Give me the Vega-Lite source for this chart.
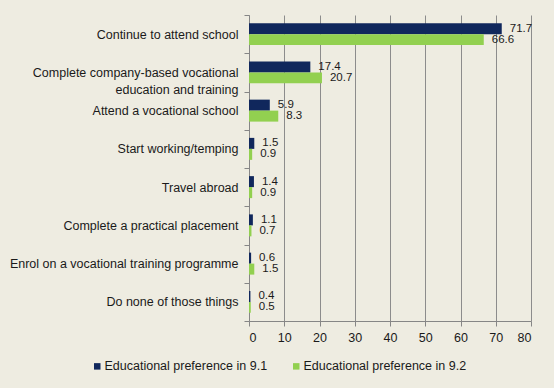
{
  "$schema": "https://vega.github.io/schema/vega-lite/v6.json",
  "width": 282,
  "height": 306,
  "autosize": {"type": "none"},
  "padding": {"left": 249, "top": 15, "right": 23, "bottom": 67},
  "background": "#EEECE1",
  "data": {
    "values": [
      {"category": "Continue to attend school", "series": "Educational preference in 9.1", "value": 71.7},
      {"category": "Continue to attend school", "series": "Educational preference in 9.2", "value": 66.6},
      {"category": "Complete company-based vocational education and training", "series": "Educational preference in 9.1", "value": 17.4},
      {"category": "Complete company-based vocational education and training", "series": "Educational preference in 9.2", "value": 20.7},
      {"category": "Attend a vocational school", "series": "Educational preference in 9.1", "value": 5.9},
      {"category": "Attend a vocational school", "series": "Educational preference in 9.2", "value": 8.3},
      {"category": "Start working/temping", "series": "Educational preference in 9.1", "value": 1.5},
      {"category": "Start working/temping", "series": "Educational preference in 9.2", "value": 0.9},
      {"category": "Travel abroad", "series": "Educational preference in 9.1", "value": 1.4},
      {"category": "Travel abroad", "series": "Educational preference in 9.2", "value": 0.9},
      {"category": "Complete a practical placement", "series": "Educational preference in 9.1", "value": 1.1},
      {"category": "Complete a practical placement", "series": "Educational preference in 9.2", "value": 0.7},
      {"category": "Enrol on a vocational training programme", "series": "Educational preference in 9.1", "value": 0.6},
      {"category": "Enrol on a vocational training programme", "series": "Educational preference in 9.2", "value": 1.5},
      {"category": "Do none of those things", "series": "Educational preference in 9.1", "value": 0.4},
      {"category": "Do none of those things", "series": "Educational preference in 9.2", "value": 0.5}
    ]
  },
  "encoding": {
    "y": {
      "field": "category",
      "type": "nominal",
      "sort": [
        "Continue to attend school",
        "Complete company-based vocational education and training",
        "Attend a vocational school",
        "Start working/temping",
        "Travel abroad",
        "Complete a practical placement",
        "Enrol on a vocational training programme",
        "Do none of those things"
      ],
      "scale": {"paddingInner": 0, "paddingOuter": 0},
      "axis": {
        "title": null,
        "tickBand": "extent",
        "tickSize": 5,
        "tickColor": "#868686",
        "domainColor": "#868686",
        "labelFont": "Liberation Sans",
        "labelFontSize": 12.5,
        "labelColor": "#1a1a1a",
        "labelPadding": 6,
        "labelLimit": 260,
        "labelLineHeight": 17,
        "labelExpr": "datum.label == 'Complete company-based vocational education and training' ? ['Complete company-based vocational\u00a0\u00a0', 'education and training\u00a0\u00a0\u00a0\u00a0\u00a0\u00a0\u00a0\u00a0\u00a0\u00a0\u00a0\u00a0\u00a0\u00a0'] : datum.label"
      }
    },
    "yOffset": {
      "field": "series",
      "type": "nominal",
      "scale": {"paddingOuter": 0.74, "paddingInner": 0}
    },
    "x": {
      "field": "value",
      "type": "quantitative",
      "scale": {"domain": [0, 80], "nice": false},
      "axis": {
        "title": null,
        "values": [0, 10, 20, 30, 40, 50, 60, 70, 80],
        "grid": true,
        "gridColor": "#8c8c8c",
        "gridOpacity": 1,
        "tickSize": 5,
        "tickColor": "#868686",
        "domainColor": "#868686",
        "labelFont": "Liberation Sans",
        "labelFontSize": 12.5,
        "labelColor": "#1a1a1a",
        "labelPadding": 5
      }
    }
  },
  "layer": [
    {
      "mark": {"type": "bar"},
      "encoding": {
        "color": {
          "field": "series",
          "type": "nominal",
          "scale": {"range": ["#10275C", "#92D050"]},
          "legend": {
            "title": null,
            "orient": "none",
            "direction": "horizontal",
            "legendX": -158,
            "legendY": 345,
            "symbolType": "square",
            "symbolSize": 42,
            "symbolStrokeWidth": 0,
            "labelFont": "Liberation Sans",
            "labelFontSize": 12.5,
            "labelColor": "#1a1a1a",
            "labelOffset": 1,
            "columnPadding": 22,
            "labelLimit": 300
          }
        }
      }
    },
    {
      "mark": {"type": "text", "align": "left", "baseline": "middle", "dx": 8, "font": "Liberation Sans", "fontSize": 11.5, "color": "#1a1a1a"},
      "encoding": {
        "text": {"field": "value", "type": "quantitative", "format": ".1f"}
      }
    }
  ],
  "config": {"view": {"stroke": null}}
}
